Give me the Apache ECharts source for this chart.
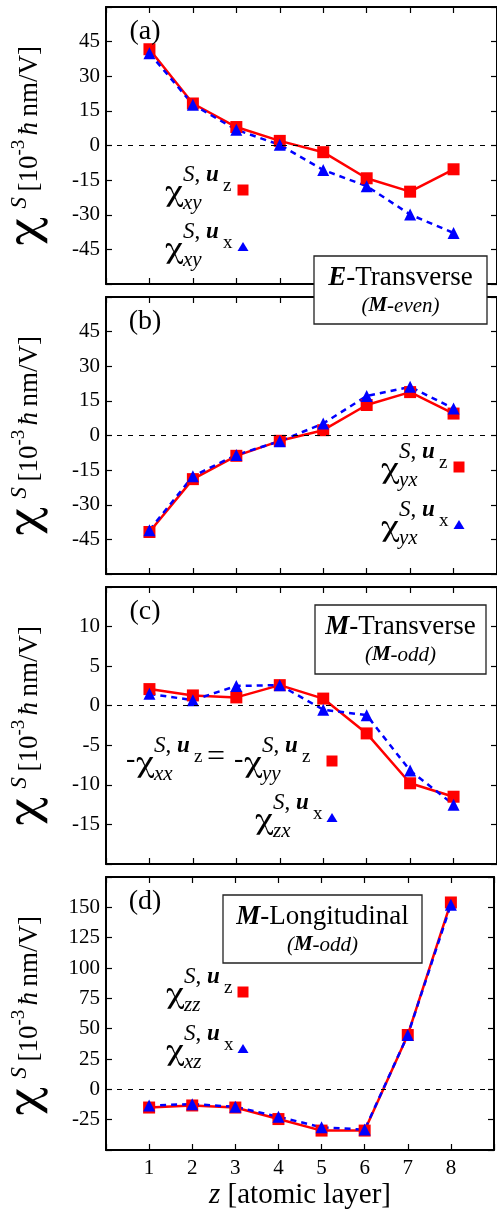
<!DOCTYPE html>
<html>
<head>
<meta charset="utf-8">
<script src="https://cdn.jsdelivr.net/npm/echarts@6/dist/echarts.min.js"></script>
<style>
  html, body { margin: 0; padding: 0; background: #fff; }
</style>
</head>
<body>
<div id="main" style="width:497px;height:1211px;"></div>
<script>
// atomic layers (x axis)
var layers = [1, 2, 3, 4, 5, 6, 7, 8];

// (a) E-Transverse, chi_xy
var aUz = [41.7, 18.2, 8.0, 2.0, -2.9, -14.2, -20.0, -10.3];
var aUx = [40.0, 17.7, 6.8, 0.3, -10.6, -17.6, -29.9, -37.9];
// (b) chi_yx
var bUz = [-41.8, -18.9, -8.8, -2.3, 2.3, 13.2, 18.8, 9.5];
var bUx = [-41.0, -17.6, -8.4, -2.5, 5.2, 17.1, 21.1, 11.7];
// (c) M-Transverse
var cUz = [2.1, 1.3, 1.05, 2.6, 0.9, -3.5, -9.8, -11.5];
var cUx = [1.5, 0.7, 2.5, 2.6, -0.5, -1.2, -8.2, -12.5];
// (d) M-Longitudinal
var dUz = [-15.0, -13.3, -15.0, -24.5, -34.0, -34.0, 44.8, 154.0];
var dUx = [-13.3, -12.2, -14.4, -22.6, -31.3, -33.2, 44.8, 152.2];

// tick labels that are printed
var xTicks = [1, 2, 3, 4, 5, 6, 7, 8];
var yTicksAB = [-45, -30, -15, 0, 15, 30, 45];
var yTicksC = [-15, -10, -5, 0, 5, 10];
var yTicksD = [-25, 0, 25, 50, 75, 100, 125, 150];

var SERIF = 'Liberation Serif';
var GREEK = 'FreeSerif';
var RED = '#ff0000', BLUE = '#0000ff';

var panels = [
  { top: 7,   uz: aUz, ux: aUx, min: -60, max: 60,  step: 15, ticks: yTicksAB, tag: '(a)' },
  { top: 297, uz: bUz, ux: bUx, min: -60, max: 60,  step: 15, ticks: yTicksAB, tag: '(b)' },
  { top: 587, uz: cUz, ux: cUx, min: -20, max: 15,  step: 5,  ticks: yTicksC,  tag: '(c)' },
  { top: 877, uz: dUz, ux: dUx, min: -50, max: 175, step: 25, ticks: yTicksD,  tag: '(d)' }
];
var GRID_LEFT = 106, GRID_W = 393, GRID_H = 277;

function pairs(vals) {
  return layers.map(function (z, i) { return [z, vals[i]]; });
}
function onlyIn(list) {
  return function (v) { return list.indexOf(v) >= 0 ? String(v) : ''; };
}

var frameLine = { show: true, onZero: false, lineStyle: { color: '#000', width: 2 } };
var innerTick = { show: true, inside: true, length: 6, lineStyle: { color: '#000', width: 1.2 } };

var grids = [], xAxes = [], yAxes = [], series = [];

panels.forEach(function (p, i) {
  var last = i === panels.length - 1;
  grids.push({ left: GRID_LEFT, top: p.top, width: GRID_W, height: GRID_H });

  // bottom + top x axes
  xAxes.push({
    type: 'value', gridIndex: i, min: 0, max: 9, interval: 1, position: 'bottom',
    axisLine: frameLine, axisTick: innerTick, splitLine: { show: false },
    axisLabel: {
      show: last, margin: 8, color: '#000', fontFamily: SERIF, fontSize: 21,
      formatter: onlyIn(xTicks)
    },
    name: last ? '{i|z} [atomic layer]' : '',
    nameLocation: 'middle', nameGap: 31,
    nameTextStyle: {
      color: '#000', fontFamily: SERIF, fontSize: 29,
      rich: { i: { fontStyle: 'italic', fontFamily: SERIF, fontSize: 29, color: '#000' } }
    }
  });
  xAxes.push({
    type: 'value', gridIndex: i, min: 0, max: 9, interval: 1, position: 'top',
    axisLine: frameLine, axisTick: innerTick, axisLabel: { show: false }, splitLine: { show: false }
  });

  // left + right y axes
  yAxes.push({
    type: 'value', gridIndex: i, min: p.min, max: p.max, interval: p.step, position: 'left',
    axisLine: frameLine, axisTick: innerTick, splitLine: { show: false },
    axisLabel: { margin: 6, color: '#000', fontFamily: SERIF, fontSize: 21, formatter: onlyIn(p.ticks) }
  });
  yAxes.push({
    type: 'value', gridIndex: i, min: p.min, max: p.max, interval: p.step, position: 'right',
    axisLine: frameLine, axisTick: innerTick, axisLabel: { show: false }, splitLine: { show: false }
  });

  series.push({
    type: 'line', xAxisIndex: 2 * i, yAxisIndex: 2 * i,
    data: pairs(p.uz), symbol: 'rect', symbolSize: 12,
    lineStyle: { color: RED, width: 2.5 }, itemStyle: { color: RED },
    markLine: {
      silent: true, symbol: 'none', label: { show: false },
      lineStyle: { color: '#000', width: 1, type: [5, 6] },
      data: [{ yAxis: 0 }]
    }
  });
  series.push({
    type: 'line', xAxisIndex: 2 * i, yAxisIndex: 2 * i,
    data: pairs(p.ux), symbol: 'triangle', symbolSize: 12,
    lineStyle: { color: BLUE, width: 2.5, type: [6, 5] }, itemStyle: { color: BLUE }
  });
});

// ---- annotations (axis titles, legend glyphs, boxes, panel tags) ----
var graphics = [];

function textEl(x, y, s, size, opts) {
  opts = opts || {};
  return {
    type: 'text', x: x, y: y, z: 100, scaleX: opts.sx || 1,
    style: {
      text: s, fill: '#000', fontFamily: opts.family || SERIF, fontSize: size,
      fontStyle: opts.italic ? 'italic' : 'normal', fontWeight: opts.bold ? 'bold' : 'normal',
      textAlign: opts.align || 'left', textVerticalAlign: 'middle', rich: opts.rich
    }
  };
}
function txt(x, y, s, size, opts) { graphics.push(textEl(x, y, s, size, opts)); }

var supRich = {
  i: { fontFamily: SERIF, fontSize: 23, fontStyle: 'italic', fill: '#000' },
  n: { fontFamily: SERIF, fontSize: 23, fill: '#000' },
  b: { fontFamily: SERIF, fontSize: 23, fontStyle: 'italic', fontWeight: 'bold', fill: '#000' }
};

// rotated y axis title, centred on cy
function yTitle(cy) {
  graphics.push({
    type: 'group', x: 30, y: cy, rotation: Math.PI / 2,
    children: [
      textEl(-100, -6, 'χ', 46, { sx: 1.3, family: GREEK }),
      textEl(-63, -10, 'S', 23, { italic: true }),
      textEl(-46, 0, '[10', 27),
      textEl(-10, -11, '-3', 19),
      textEl(10, 0, 'ħ', 27, { italic: true }),
      textEl(29, 0, 'nm/V]', 27)
    ]
  });
}

// chi^{S, u_k}_{sub}; x = left of chi, y = centre of the legend marker
function chi(x, y, sub, k) {
  txt(x, y + 1, 'χ', 30, { sx: 1.3, family: GREEK });
  txt(x + 18, y - 15, '{i|S}{n|, }{b|u}', 23, { rich: supRich });
  txt(x + 58, y - 4, k, 19);
  txt(x + 18, y + 13, sub, 21, { italic: true });
}
function square(x, y) {
  graphics.push({ type: 'rect', z: 100, shape: { x: x - 5.5, y: y - 5.5, width: 11, height: 11 }, style: { fill: RED } });
}
function tri(x, y) {
  graphics.push({ type: 'polygon', z: 100, shape: { points: [[x, y - 5], [x - 5.5, y + 4], [x + 5.5, y + 4]] }, style: { fill: BLUE } });
}
function box(x, y, w, h, title, note) {
  graphics.push({ type: 'rect', z: 99, shape: { x: x, y: y, width: w, height: h }, style: { fill: '#fff', stroke: '#222', lineWidth: 1.3 } });
  var cx = x + w / 2;
  txt(cx, y + 22, '{bi|' + title[0] + '}{r|' + title[1] + '}', 27, {
    align: 'center',
    rich: {
      bi: { fontFamily: SERIF, fontSize: 27, fontStyle: 'italic', fontWeight: 'bold', fill: '#000' },
      r: { fontFamily: SERIF, fontSize: 27, fill: '#000' }
    }
  });
  txt(cx, y + 50, '{i|(}{bi|M}{i|' + note + ')}', 21, {
    align: 'center',
    rich: {
      bi: { fontFamily: SERIF, fontSize: 21, fontStyle: 'italic', fontWeight: 'bold', fill: '#000' },
      i: { fontFamily: SERIF, fontSize: 21, fontStyle: 'italic', fill: '#000' }
    }
  });
}

panels.forEach(function (p) {
  txt(145, p.top + 25, p.tag, 28, { align: 'center' });
  yTitle(p.top + GRID_H / 2);
});

// (a)
chi(165, 190, 'xy', 'z'); square(243, 190);
chi(165, 247, 'xy', 'x'); tri(243, 247);
box(314, 256, 173, 68, ['E', '-Transverse'], '-even');
// (b)
chi(381, 467, 'yx', 'z'); square(459, 467);
chi(381, 525, 'yx', 'x'); tri(459, 525);
// (c)
txt(126, 760, '-', 28);
chi(136, 761, 'xx', 'z');
txt(207, 758, '=', 32);
txt(234, 760, '-', 28);
chi(244, 761, 'yy', 'z'); square(332, 761);
chi(255, 818, 'zx', 'x'); tri(332, 818);
box(315, 605, 171, 69, ['M', '-Transverse'], '-odd');
// (d)
chi(166, 992, 'zz', 'z'); square(243, 992);
chi(166, 1049, 'xz', 'x'); tri(243, 1049);
box(223, 895, 199, 68, ['M', '-Longitudinal'], '-odd');

var myChart = echarts.init(document.getElementById('main'));
myChart.setOption({
  animation: false,
  backgroundColor: '#fff',
  grid: grids,
  xAxis: xAxes,
  yAxis: yAxes,
  series: series,
  graphic: { elements: graphics }
});
</script>
</body>
</html>
